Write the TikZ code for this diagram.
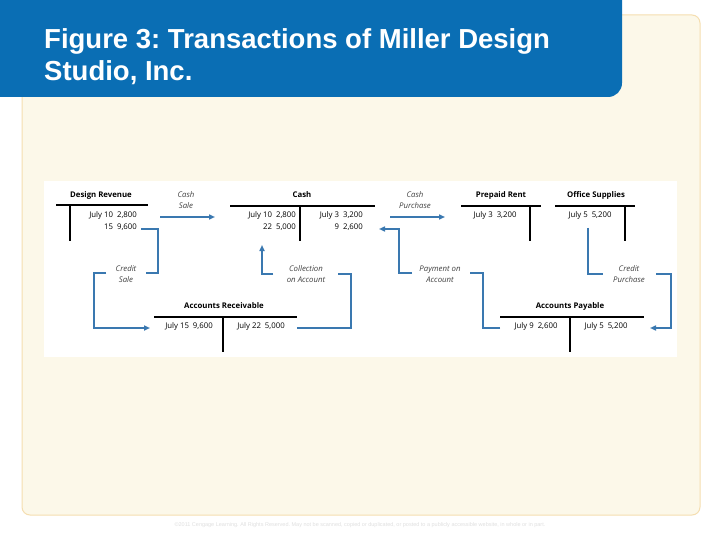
\documentclass[tikz,border=0pt]{standalone}
\usepackage{fontspec}
\setmainfont{Liberation Sans}
\newfontfamily\acct{Open Sans}
\usetikzlibrary{arrows.meta}
\frenchspacing
\definecolor{tblue}{HTML}{0A6EB4}
\definecolor{abl}{HTML}{3A78B0}
\definecolor{beige}{HTML}{FCF8E9}
\definecolor{bord}{HTML}{F5DEB0}
\begin{document}
\begin{tikzpicture}[x=1pt,y=-1pt,
  ttl/.style={font=\acct\fontsize{7.8}{9}\selectfont\bfseries, inner sep=0},
  ent/.style={font=\acct\fontsize{7.8}{12}\selectfont, inner sep=0, align=right},
  lab/.style={font=\acct\fontsize{7.8}{11}\selectfont\itshape, inner sep=0, align=center, text=black!75},
  tline/.style={line width=1.6pt},
  flow/.style={abl, line width=1.6pt},
  fa/.style={flow, -{Triangle[length=6pt,width=5pt]}}]
\useasboundingbox (0,0) rectangle (720,540);
\fill[white] (0,0) rectangle (720,540);
\draw[bord, fill=beige, line width=1pt, rounded corners=8pt] (22,15) rectangle (700,515);
\fill[tblue, rounded corners=14pt] (-20,-20) rectangle (622,97);
\fill[tblue] (-20,-20) rectangle (600,60);
\node[anchor=north west, align=left, text=white, font=\bfseries\fontsize{27.5}{32}\selectfont, inner sep=0] (title) at (44,28) {Figure 3: Transactions of Miller Design\\Studio, Inc.};
\fill[white] (44,181) rectangle (677,357);
% Design Revenue
\node[ttl] (dr) at (101,195) {Design Revenue};
\draw[tline] (56,205) -- (148,205); \draw[tline] (70,205) -- (70,241);
\node[ent, anchor=north east] (dre) at (137,211) {July 10\hspace{4pt}2,800\\15\hspace{4pt}9,600};
% Cash
\node[ttl] (cash) at (302,195) {Cash};
\draw[tline] (230,206) -- (375,206); \draw[tline] (300,206) -- (300,241);
\node[ent, anchor=north east] (cl) at (296,211) {July 10\hspace{4pt}2,800\\22\hspace{4pt}5,000};
\node[ent, anchor=north east] (cr) at (363,211) {July 3\hspace{4pt}3,200\\9\hspace{4pt}2,600};
% Prepaid Rent
\node[ttl] (pr) at (501,195) {Prepaid Rent};
\draw[tline] (461,206) -- (541,206); \draw[tline] (530,206) -- (530,241);
\node[ent, anchor=north] (pre) at (495,211) {July 3\hspace{4pt}3,200};
% Office Supplies
\node[ttl] (os) at (596,195) {Office Supplies};
\draw[tline] (555,206) -- (635,206); \draw[tline] (625,206) -- (625,241);
\node[ent, anchor=north] (ose) at (590,211) {July 5\hspace{4pt}5,200};
% Accounts Receivable
\node[ttl] (ar) at (224,306) {Accounts Receivable};
\draw[tline] (154,317) -- (297,317); \draw[tline] (223,317) -- (223,352);
\node[ent, anchor=north] (arl) at (189,322) {July 15\hspace{4pt}9,600};
\node[ent, anchor=north] (arr) at (261,322) {July 22\hspace{4pt}5,000};
% Accounts Payable
\node[ttl] (ap) at (570,306) {Accounts Payable};
\draw[tline] (500,317) -- (644,317); \draw[tline] (570,317) -- (570,352);
\node[ent, anchor=north] (apl) at (536,322) {July 9\hspace{4pt}2,600};
\node[ent, anchor=north] (apr) at (606,322) {July 5\hspace{4pt}5,200};
% labels
\node[lab] (cs) at (186,200) {Cash\\Sale};
\node[lab] (crs) at (126,274) {Credit\\Sale};
\node[lab] (coa) at (306,274) {Collection\\on Account};
\node[lab] (cp) at (415,200) {Cash\\Purchase};
\node[lab] (poa) at (440,274) {Payment on\\Account};
\node[lab] (crp) at (629,274) {Credit\\Purchase};
% flows
\draw[fa] (160,217) -- (215,217);
\draw[flow] (141,229) -| (158,273) -- (146,273);
\draw[fa] (106,273) -- (94,273) |- (150,328);
\draw[fa] (297,328) -| (351,274) -- (338,274) (273,274) -- (262,274) -- (262,245);
\draw[fa] (390,217) -- (445,217);
\draw[fa] (500,328) -| (483,273) -- (470,273) (412,273) -| (399,229) -- (379,229);
\draw[fa] (588,228) |- (603,274) (656,274) -| (671,328) -- (650,328);
\node[text=black!12, font=\fontsize{5.5}{6}\selectfont] (copy) at (360,525) {©2011 Cengage Learning. All Rights Reserved. May not be scanned, copied or duplicated, or posted to a publicly accessible website, in whole or in part.};
\end{tikzpicture}
\end{document}
